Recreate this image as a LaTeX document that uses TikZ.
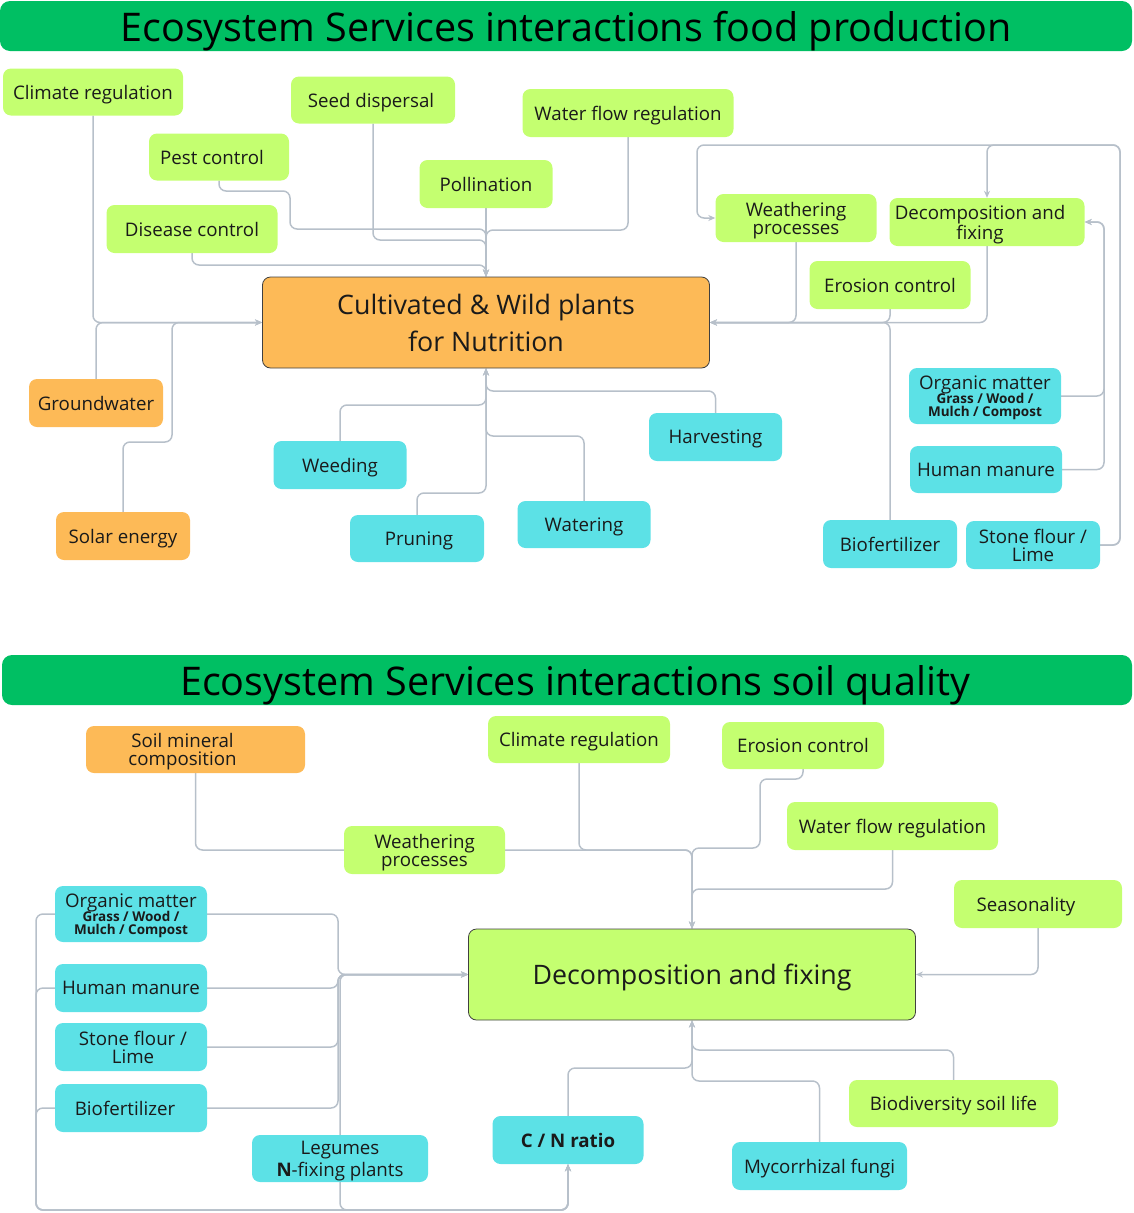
\documentclass[tikz,border=0pt]{standalone}
\usepackage{fontspec}
\setmainfont{Open Sans}
\usetikzlibrary{arrows.meta,backgrounds}

\definecolor{limebox}{HTML}{C4FF70}
\definecolor{cyanbox}{HTML}{5CE1E6}
\definecolor{orangebox}{HTML}{FDBA57}
\definecolor{titlegreen}{HTML}{00BF63}
\definecolor{wire}{HTML}{B7C0CA}
\definecolor{inktext}{HTML}{1A1A1A}

\tikzset{
  box/.style={rounded corners=8pt, inner sep=0pt, align=center, text depth=0pt,
    font=\fontsize{18.7}{18}\selectfont, minimum height=48pt, text=inktext},
  svc/.style={box, fill=limebox},
  act/.style={box, fill=cyanbox},
  res/.style={box, fill=orangebox},
  hub/.style={box, draw=black!75, line width=0.8pt,
    font=\fontsize{26.8}{37}\selectfont, minimum height=91pt, minimum width=447pt},
  banner/.style={rounded corners=10pt, fill=titlegreen, inner sep=0pt, text depth=0pt,
    minimum height=50pt, text=black, font=\fontsize{39.5}{40}\selectfont},
  conn/.style={draw=wire, line width=1.5pt, rounded corners=7pt},
  arr/.style={conn, -{Stealth[length=7pt,width=6pt]}}
}
\newcommand{\subline}[1]{{\fontsize{13.5}{14}\selectfont\bfseries #1}}
\newcommand{\padR}[1]{\hspace*{#1}}

\begin{document}
\begin{tikzpicture}[x=1pt,y=-1pt]
\useasboundingbox (0,0) rectangle (1134,1213);

% ---------------- food production ----------------
\node[banner, minimum width=1132pt] (t1) at (566,26) {Ecosystem Services interactions food production};

\node[svc, minimum width=180pt, minimum height=47pt] (clim) at (93,92) {Climate regulation};
\node[svc, minimum width=164pt, minimum height=47pt] (seed) at (373,100) {Seed dispersal\padR{4pt}};
\node[svc, minimum width=211pt] (water) at (628,113) {Water flow regulation};
\node[svc, minimum width=140pt, minimum height=47pt] (pest) at (219,157) {Pest control\padR{14pt}};
\node[svc, minimum width=133pt] (poll) at (486,184) {Pollination};
\node[svc, minimum width=171pt] (dis) at (192,229) {Disease control};
\node[svc, minimum width=161pt] (weath) at (796,218) {Weathering\\processes};
\node[svc, minimum width=195pt] (decomp) at (987,222) {Decomposition and\padR{14pt}\\fixing\padR{14pt}};
\node[svc, minimum width=161pt] (eros) at (890,285) {Erosion control};

\node[hub, fill=orangebox] (cult) at (486,322.5) {Cultivated \& Wild plants\\for Nutrition};

\node[res, minimum width=134pt] (ground) at (96,403) {Groundwater};
\node[res, minimum width=134pt] (solar) at (123,536) {Solar energy};

\node[act, minimum width=133pt] (weed) at (340,465) {Weeding};
\node[act, minimum width=134pt, minimum height=47pt] (prun) at (417,538.5) {\padR{4pt}Pruning};
\node[act, minimum width=133pt, minimum height=47pt] (wat) at (584,524.5) {Watering};
\node[act, minimum width=133pt] (harv) at (715.5,437) {Harvesting};
\node[act, minimum width=152pt, minimum height=56pt] (org) at (985,396)
  {Organic matter\\[-4pt]\subline{Grass / Wood /}\\[-5pt]\subline{Mulch / Compost}};
\node[act, minimum width=152pt, minimum height=47pt] (hum) at (986,469.5) {Human manure};
\node[act, minimum width=134pt] (biof) at (890,544) {Biofertilizer};
\node[act, minimum width=134pt] (stone) at (1033,545) {Stone flour /\\Lime};

% ---------------- soil quality ----------------
\node[banner, minimum width=1130pt] (t2) at (567,680) {\padR{16pt}Ecosystem Services interactions soil quality};

\node[res, minimum width=219pt, minimum height=47pt] (soil) at (195.5,749.5) {Soil mineral\padR{26pt}\\composition\padR{26pt}};
\node[svc, minimum width=182pt, minimum height=47pt] (clim2) at (579,739.5) {Climate regulation};
\node[svc, minimum width=162pt, minimum height=47pt] (eros2) at (803,745.5) {Erosion control};
\node[svc, minimum width=161pt] (weath2) at (424.5,850) {Weathering\\processes};
\node[svc, minimum width=211pt] (wat2) at (892.5,826) {Water flow regulation};
\node[svc, minimum width=168pt] (seas) at (1038,904) {Seasonality\padR{24pt}};

\node[hub, fill=limebox] (dec2) at (692,974.5) {Decomposition and fixing};

\node[act, minimum width=152pt, minimum height=56pt] (org2) at (131,914)
  {Organic matter\\[-4pt]\subline{Grass / Wood /}\\[-5pt]\subline{Mulch / Compost}};
\node[act, minimum width=152pt] (hum2) at (131,988) {Human manure};
\node[act, minimum width=152pt] (stone2) at (131,1047) {\padR{4pt}Stone flour /\\\padR{4pt}Lime};
\node[act, minimum width=152pt] (bio2) at (131,1108) {Biofertilizer\padR{12pt}};
\node[act, minimum width=176pt, minimum height=47pt] (leg) at (340,1158.5) {Legumes\\[2pt]\textbf{N}-fixing plants};
\node[act, minimum width=151pt] (cn) at (568,1140) {\textbf{C / N ratio}};
\node[act, minimum width=175pt] (myc) at (819.5,1166) {Mycorrhizal fungi};
\node[svc, minimum width=209pt, minimum height=47pt] (biod) at (953.5,1103.5) {Biodiversity soil life};

% ---------------- connectors ----------------
\begin{scope}[on background layer]
  % inputs on the left of the food hub
  \draw[arr] (clim.south) |- (cult.west);
  \draw[arr] (ground.north) |- (cult.west);
  \draw[arr] (solar.north) |- (172,442) |- (cult.west);
  % regulating services above the food hub
  \draw[arr] (pest.south) |- (290,191) |- (486,229) -- (cult.north);
  \draw[arr] (seed.south) |- (486,240) -- (cult.north);
  \draw[arr] (dis.south) |- (486,265) -- (cult.north);
  \draw[arr] (water.south) |- (486,230) -- (cult.north);
  \draw[arr] (poll.south) -- (cult.north);
  % soil processes on the right
  \draw[arr] (weath.south) |- (cult.east);
  \draw[arr] (eros.south) |- (cult.east);
  \draw[arr] (decomp.south) |- (cult.east);
  \draw[arr] (biof.north) |- (cult.east);
  \draw[arr] (stone.east) -| (1120,145) -| (697,218) -- (weath.west);
  \draw[arr] (stone.east) -| (1120,145) -| (decomp.north);
  \draw[arr] (org.east) -| (1104,222) -- (decomp.east);
  \draw[arr] (hum.east) -| (1104,222) -- (decomp.east);
  % practices below the food hub
  \draw[arr] (weed.north) |- (486,405) -- (cult.south);
  \draw[arr] (harv.north) |- (486,391) -- (cult.south);
  \draw[arr] (wat.north) |- (486,436) -- (cult.south);
  \draw[arr] (prun.north) |- (486,493) -- (cult.south);

  % soil quality: from above
  \draw[conn] (soil.south) |- (weath2.west);
  \draw[arr] (weath2.east) -| (dec2.north);
  \draw[arr] (clim2.south) |- (692,850) -- (dec2.north);
  \draw[arr] (eros2.south) |- (760,779) |- (692,848) -- (dec2.north);
  \draw[arr] (wat2.south) |- (692,889) -- (dec2.north);
  \draw[arr] (seas.south) |- (dec2.east);
  % amendments on the left
  \draw[arr] (org2.east) -| (338,974.5) -- (dec2.west);
  \draw[arr] (hum2.east) -| (338,974.5) -- (dec2.west);
  \draw[arr] (stone2.east) -| (338,974.5) -- (dec2.west);
  \draw[arr] (bio2.east) -| (338,974.5) -- (dec2.west);
  \draw[arr] (leg.north) |- (dec2.west);
  % amendments feeding the C/N ratio
  \draw[arr] (org2.west) -| (36,1210) -| (cn.south);
  \draw[arr] (hum2.west) -| (36,1210) -| (cn.south);
  \draw[arr] (bio2.west) -| (36,1210) -| (cn.south);
  \draw[arr] (leg.south) |- (568,1210) -- (cn.south);
  % from below
  \draw[arr] (cn.north) |- (692,1068) -- (dec2.south);
  \draw[arr] (myc.north) |- (692,1081) -- (dec2.south);
  \draw[arr] (biod.north) |- (692,1050) -- (dec2.south);
\end{scope}
\end{tikzpicture}
\end{document}
